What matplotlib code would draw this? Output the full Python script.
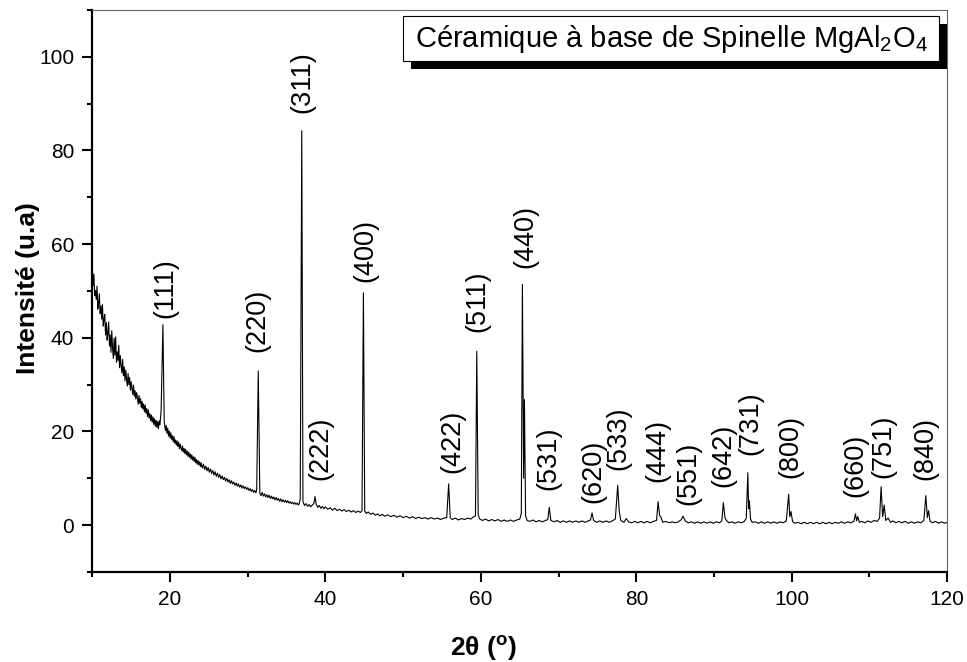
import numpy as np
import matplotlib
matplotlib.use('Agg')
import matplotlib.pyplot as plt
from matplotlib.patches import Rectangle
from matplotlib.ticker import MultipleLocator

plt.rcParams['font.family'] = ['Liberation Sans', 'DejaVu Sans']
plt.rcParams['mathtext.fontset'] = 'custom'
plt.rcParams['mathtext.rm'] = 'Liberation Sans'
plt.rcParams['mathtext.bf'] = 'Liberation Sans:bold'

# XRD scan, (2theta, intensity)
scan_low = [
    (10.0, 54.5), (10.1, 51.2), (10.2, 53.6), (10.3, 49.0), (10.4, 50.1), (10.5, 48.2),
    (10.6, 51.0), (10.7, 46.1), (10.8, 47.3), (10.9, 49.4), (11.0, 45.2), (11.1, 46.8),
    (11.2, 44.0), (11.3, 47.1), (11.4, 42.5), (11.5, 43.9), (11.6, 45.0), (11.7, 40.6),
    (11.8, 43.2), (11.9, 39.5), (12.0, 41.0), (12.1, 43.4), (12.2, 38.2), (12.3, 40.6),
    (12.4, 36.9), (12.5, 41.5), (12.6, 37.8), (12.7, 35.6), (12.8, 39.9), (12.9, 36.3),
    (13.0, 40.2), (13.1, 34.8), (13.2, 37.0), (13.3, 35.1), (13.4, 38.4), (13.5, 33.6),
    (13.6, 36.2), (13.7, 34.0), (13.8, 32.5), (13.9, 35.4), (14.0, 31.9), (14.1, 33.8),
    (14.2, 30.8), (14.3, 33.1), (14.4, 31.2), (14.5, 29.7), (14.6, 32.4), (14.7, 30.0),
    (14.8, 31.5), (14.9, 28.8), (15.0, 30.6), (15.1, 29.2), (15.2, 27.9), (15.3, 29.9),
    (15.4, 27.5), (15.5, 28.7), (15.6, 26.9), (15.7, 28.3), (15.8, 27.2), (15.9, 25.8),
    (16.0, 27.7), (16.1, 26.0), (16.2, 27.0), (16.3, 25.1), (16.4, 26.4), (16.5, 24.8),
    (16.6, 25.9), (16.7, 24.2), (16.8, 25.6), (16.9, 23.9), (17.0, 24.9), (17.1, 23.2),
    (17.2, 24.6), (17.3, 22.9), (17.4, 23.8), (17.5, 22.3), (17.6, 23.5), (17.7, 22.0),
    (17.8, 23.1), (17.9, 21.5), (18.0, 22.7), (18.1, 21.1), (18.2, 22.4), (18.3, 20.9),
    (18.4, 22.1), (18.5, 20.6), (18.6, 22.3), (18.7, 21.4), (18.85, 24.5),
    (19.08, 42.8), (19.25, 22.0), (19.4, 20.2), (19.5, 21.3), (19.6, 19.6), (19.7, 20.7),
    (19.8, 19.0), (19.9, 20.1), (20.0, 18.6), (20.1, 19.7), (20.2, 18.3), (20.3, 19.1),
    (20.4, 17.8), (20.5, 18.9), (20.6, 17.5), (20.7, 18.2), (20.8, 17.1), (20.9, 18.0),
    (21.0, 16.8), (21.1, 17.7), (21.2, 16.3), (21.3, 17.3), (21.4, 16.6), (21.5, 15.9),
    (21.6, 16.9), (21.7, 15.6), (21.8, 16.4), (21.9, 15.3), (22.0, 16.2), (22.1, 15.0),
    (22.2, 15.8), (22.3, 14.7), (22.4, 15.6), (22.5, 14.5), (22.6, 15.2), (22.7, 14.1),
    (22.8, 15.0), (22.9, 13.9), (23.0, 14.6), (23.1, 13.6), (23.2, 14.5), (23.3, 13.3),
    (23.4, 14.0), (23.5, 13.0), (23.6, 13.8), (23.7, 12.9), (23.8, 13.5), (23.9, 12.5),
    (24.0, 13.3), (24.15, 12.2), (24.3, 13.0), (24.45, 11.9), (24.6, 12.6), (24.75, 11.6),
    (24.9, 12.3), (25.05, 11.3), (25.2, 12.0), (25.35, 11.0), (25.5, 11.7), (25.65, 10.7),
    (25.8, 11.4), (25.95, 10.4), (26.1, 11.1), (26.25, 10.2), (26.4, 10.8), (26.55, 9.9),
    (26.7, 10.5), (26.85, 9.7), (27.0, 10.2), (27.15, 9.4), (27.3, 10.0), (27.45, 9.2),
    (27.6, 9.7), (27.75, 8.9), (27.9, 9.5), (28.05, 8.8), (28.2, 9.2), (28.35, 8.5),
    (28.5, 9.0), (28.65, 8.3), (28.8, 8.8), (28.95, 8.1), (29.1, 8.6), (29.25, 7.9),
    (29.4, 8.4), (29.55, 7.8), (29.7, 8.2), (29.85, 7.6), (30.0, 8.0), (30.15, 7.4),
    (30.3, 7.8), (30.45, 7.2), (30.6, 7.6), (30.75, 7.0), (30.9, 7.4), (31.05, 6.9),
    (31.15, 7.6), (31.35, 32.9), (31.55, 6.8), (31.7, 6.3), (31.85, 7.0), (32.0, 6.2),
    (32.15, 6.7), (32.3, 6.0), (32.45, 6.5), (32.6, 5.9), (32.75, 6.4), (32.9, 5.7),
    (33.05, 6.2), (33.2, 5.6), (33.35, 6.0), (33.5, 5.4), (33.65, 5.9), (33.8, 5.3),
    (33.95, 5.7), (34.1, 5.1), (34.25, 5.6), (34.4, 5.0), (34.55, 5.4), (34.7, 4.9),
    (34.85, 5.3), (35.0, 4.8), (35.15, 5.2), (35.3, 4.7), (35.45, 5.0), (35.6, 4.6),
    (35.75, 4.9), (35.9, 4.5), (36.05, 4.8), (36.2, 4.4), (36.35, 4.7), (36.5, 4.3),
]

scan_mid = [
    (36.6, 4.5), (36.75, 5.6), (36.95, 84.2), (37.1, 5.0), (37.3, 4.2), (37.5, 4.6),
    (37.7, 4.0), (37.9, 4.4), (38.1, 3.9), (38.3, 4.3), (38.5, 4.6), (38.65, 6.1),
    (38.8, 4.5), (39.0, 3.8), (39.2, 4.2), (39.4, 3.6), (39.6, 4.0), (39.8, 3.5),
    (40.0, 3.9), (40.3, 3.4), (40.6, 3.7), (40.9, 3.2), (41.2, 3.6), (41.5, 3.1),
    (41.8, 3.4), (42.1, 3.0), (42.4, 3.3), (42.7, 2.9), (43.0, 3.2), (43.3, 2.8),
    (43.6, 3.1), (43.9, 2.7), (44.2, 3.0), (44.5, 2.7), (44.7, 3.1), (44.88, 49.6),
    (45.05, 3.0), (45.25, 2.5), (45.5, 2.8), (45.8, 2.3), (46.1, 2.6), (46.4, 2.1),
    (46.7, 2.4), (47.0, 2.0), (47.3, 2.3), (47.6, 1.9), (48.0, 2.2), (48.4, 1.8),
    (48.8, 2.1), (49.2, 1.7), (49.6, 2.0), (50.0, 1.6), (50.4, 1.9), (50.8, 1.5),
    (51.2, 1.8), (51.6, 1.4), (52.0, 1.7), (52.4, 1.4), (52.8, 1.6), (53.2, 1.3),
    (53.6, 1.6), (54.0, 1.3), (54.4, 1.5), (54.8, 1.2), (55.2, 1.5), (55.6, 1.6),
    (55.85, 8.8), (56.05, 1.6), (56.3, 1.2), (56.7, 1.5), (57.1, 1.1), (57.5, 1.4),
    (57.9, 1.2), (58.3, 1.5), (58.7, 1.3), (59.0, 1.7), (59.3, 2.0), (59.47, 37.1),
    (59.65, 2.2), (59.85, 1.3), (60.2, 1.0), (60.6, 1.3), (61.0, 0.9), (61.4, 1.2),
    (61.8, 0.9), (62.2, 1.2), (62.6, 0.8), (63.0, 1.1), (63.4, 0.8), (63.8, 1.1),
    (64.2, 0.8), (64.6, 1.1), (65.0, 1.3), (65.2, 2.5), (65.34, 51.4), (65.5, 10.0),
    (65.6, 26.8), (65.75, 2.0), (65.95, 1.0), (66.3, 0.8), (66.7, 1.1), (67.1, 0.7),
    (67.5, 1.0), (67.9, 0.7), (68.3, 1.0), (68.6, 1.2), (68.8, 3.8), (69.0, 1.0),
    (69.4, 0.7), (69.8, 1.0), (70.2, 0.6), (70.6, 0.9), (71.0, 0.6), (71.4, 0.9),
    (71.8, 0.6), (72.2, 0.9), (72.6, 0.6), (73.0, 0.9), (73.4, 0.6), (73.8, 0.9),
    (74.1, 1.1), (74.3, 2.6), (74.5, 1.0), (74.9, 0.6), (75.3, 0.9), (75.7, 0.6),
    (76.1, 0.9), (76.5, 0.6), (76.9, 0.9), (77.3, 1.3), (77.6, 8.5), (77.8, 3.0),
    (78.0, 1.0), (78.4, 0.6), (78.7, 1.4), (79.0, 0.7), (79.4, 0.5), (79.8, 0.8),
]

scan_high = [
    (80.2, 0.5), (80.6, 0.8), (81.0, 0.5), (81.4, 0.8), (81.8, 0.5), (82.2, 0.8),
    (82.6, 1.0), (82.8, 5.0), (83.0, 2.0), (83.15, 1.8), (83.4, 0.6), (83.8, 0.8),
    (84.2, 0.5), (84.6, 0.7), (85.0, 0.5), (85.4, 0.7), (85.8, 1.2), (86.0, 1.9),
    (86.3, 0.9), (86.7, 0.5), (87.1, 0.7), (87.5, 0.4), (87.9, 0.7), (88.3, 0.4),
    (88.7, 0.7), (89.1, 0.4), (89.5, 0.7), (89.9, 0.4), (90.3, 0.7), (90.7, 0.5),
    (91.0, 0.9), (91.2, 4.8), (91.4, 1.6), (91.6, 1.0), (91.9, 0.5), (92.3, 0.7),
    (92.7, 0.4), (93.1, 0.7), (93.5, 0.5), (93.9, 0.8), (94.15, 1.5), (94.35, 11.2),
    (94.45, 3.5), (94.55, 5.2), (94.7, 1.3), (94.9, 0.6), (95.3, 0.7), (95.7, 0.4),
    (96.1, 0.7), (96.5, 0.4), (96.9, 0.7), (97.3, 0.4), (97.7, 0.7), (98.1, 0.4),
    (98.5, 0.7), (98.9, 0.5), (99.3, 0.9), (99.6, 6.6), (99.75, 1.8), (99.9, 2.9),
    (100.1, 0.8), (100.4, 0.4), (100.8, 0.6), (101.2, 0.3), (101.6, 0.6), (102.0, 0.3),
    (102.4, 0.6), (102.8, 0.3), (103.2, 0.6), (103.6, 0.3), (104.0, 0.6), (104.4, 0.3),
    (104.8, 0.6), (105.2, 0.3), (105.6, 0.6), (106.0, 0.4), (106.4, 0.7), (106.8, 0.4),
    (107.2, 0.7), (107.6, 0.5), (108.0, 0.8), (108.2, 2.4), (108.35, 0.9), (108.5, 1.8),
    (108.7, 0.6), (109.0, 0.8), (109.4, 0.5), (109.8, 0.9), (110.2, 0.6), (110.6, 1.0),
    (111.0, 0.8), (111.3, 1.5), (111.5, 8.2), (111.7, 1.8), (111.9, 4.3), (112.1, 1.0),
    (112.4, 1.5), (112.7, 0.6), (113.0, 0.9), (113.4, 0.5), (113.8, 0.8), (114.2, 0.5),
    (114.6, 0.8), (115.0, 0.4), (115.4, 0.7), (115.8, 0.4), (116.2, 0.7), (116.6, 0.5),
    (117.0, 1.0), (117.25, 6.3), (117.45, 1.6), (117.6, 3.1), (117.8, 0.8), (118.1, 0.5),
    (118.5, 0.8), (118.9, 0.4), (119.3, 0.7), (119.7, 0.4), (120.0, 0.6),
]

# Miller indices and where their labels sit (2theta, bottom of text)
hkl = ['(111)', '(220)', '(311)', '(222)', '(400)', '(422)', '(511)', '(440)', '(531)', '(620)',
       '(533)', '(444)', '(551)', '(642)', '(731)', '(800)', '(660)', '(751)', '(840)']
hkl_x = [19.4, 31.2, 37.0, 39.3, 45.1, 56.3, 59.6, 65.7, 68.7, 74.5,
         77.7, 82.7, 86.7, 91.2, 94.7, 99.8, 108.2, 111.8, 117.2]
hkl_y = [44.3, 37.0, 87.9, 9.6, 52.0, 11.1, 41.3, 55.0, 7.5, 4.7,
         11.8, 9.2, 4.3, 8.1, 15.0, 10.0, 6.0, 10.0, 9.6]

scan = np.array(scan_low + scan_mid + scan_high)
two_theta, intensity = scan[:, 0], scan[:, 1]

fig = plt.figure(figsize=(9.67, 6.62), dpi=100)
ax = fig.add_axes([0.0955, 0.136, 0.884, 0.849])

ax.plot(two_theta, intensity, color='black', linewidth=0.8)

for lab, x, y in zip(hkl, hkl_x, hkl_y):
    ax.text(x, y, lab, rotation=90, ha='center', va='bottom', fontsize=19.5)

ax.set_xlim(10, 120)
ax.set_ylim(-10, 110)
ax.xaxis.set_major_locator(MultipleLocator(20))
ax.xaxis.set_minor_locator(MultipleLocator(10))
ax.yaxis.set_major_locator(MultipleLocator(20))
ax.yaxis.set_minor_locator(MultipleLocator(10))
ax.tick_params(which='major', direction='out', length=7, width=1.5, labelsize=15, pad=6)
ax.tick_params(which='minor', direction='out', length=3.5, width=1.5)

for side in ['left', 'bottom']:
    ax.spines[side].set_linewidth(1.6)
for side in ['top', 'right']:
    ax.spines[side].set_linewidth(0.8)
    ax.spines[side].set_color('#666666')

ax.set_xlabel(r'2θ ($^{\mathregular{o}}$)', fontsize=19, fontweight='bold')
ax.set_ylabel('Intensité (u.a)', fontsize=19, fontweight='bold')
ax.xaxis.set_label_coords(0.458, -0.11)
ax.yaxis.set_label_coords(-0.061, 0.505)

# title box with a drop shadow
ax.add_patch(Rectangle((51.03, 97.4), 68.9, 9.5, facecolor='black', edgecolor='none', zorder=3))
ax.add_patch(Rectangle((50.0, 99.1), 68.9, 9.5, facecolor='white', edgecolor='black',
                       linewidth=0.8, zorder=4))
ax.text(84.45, 103.85, 'Céramique à base de Spinelle MgAl$_2$O$_4$', fontsize=21,
        ha='center', va='center', zorder=5)

fig.savefig('out.png', dpi=100)
